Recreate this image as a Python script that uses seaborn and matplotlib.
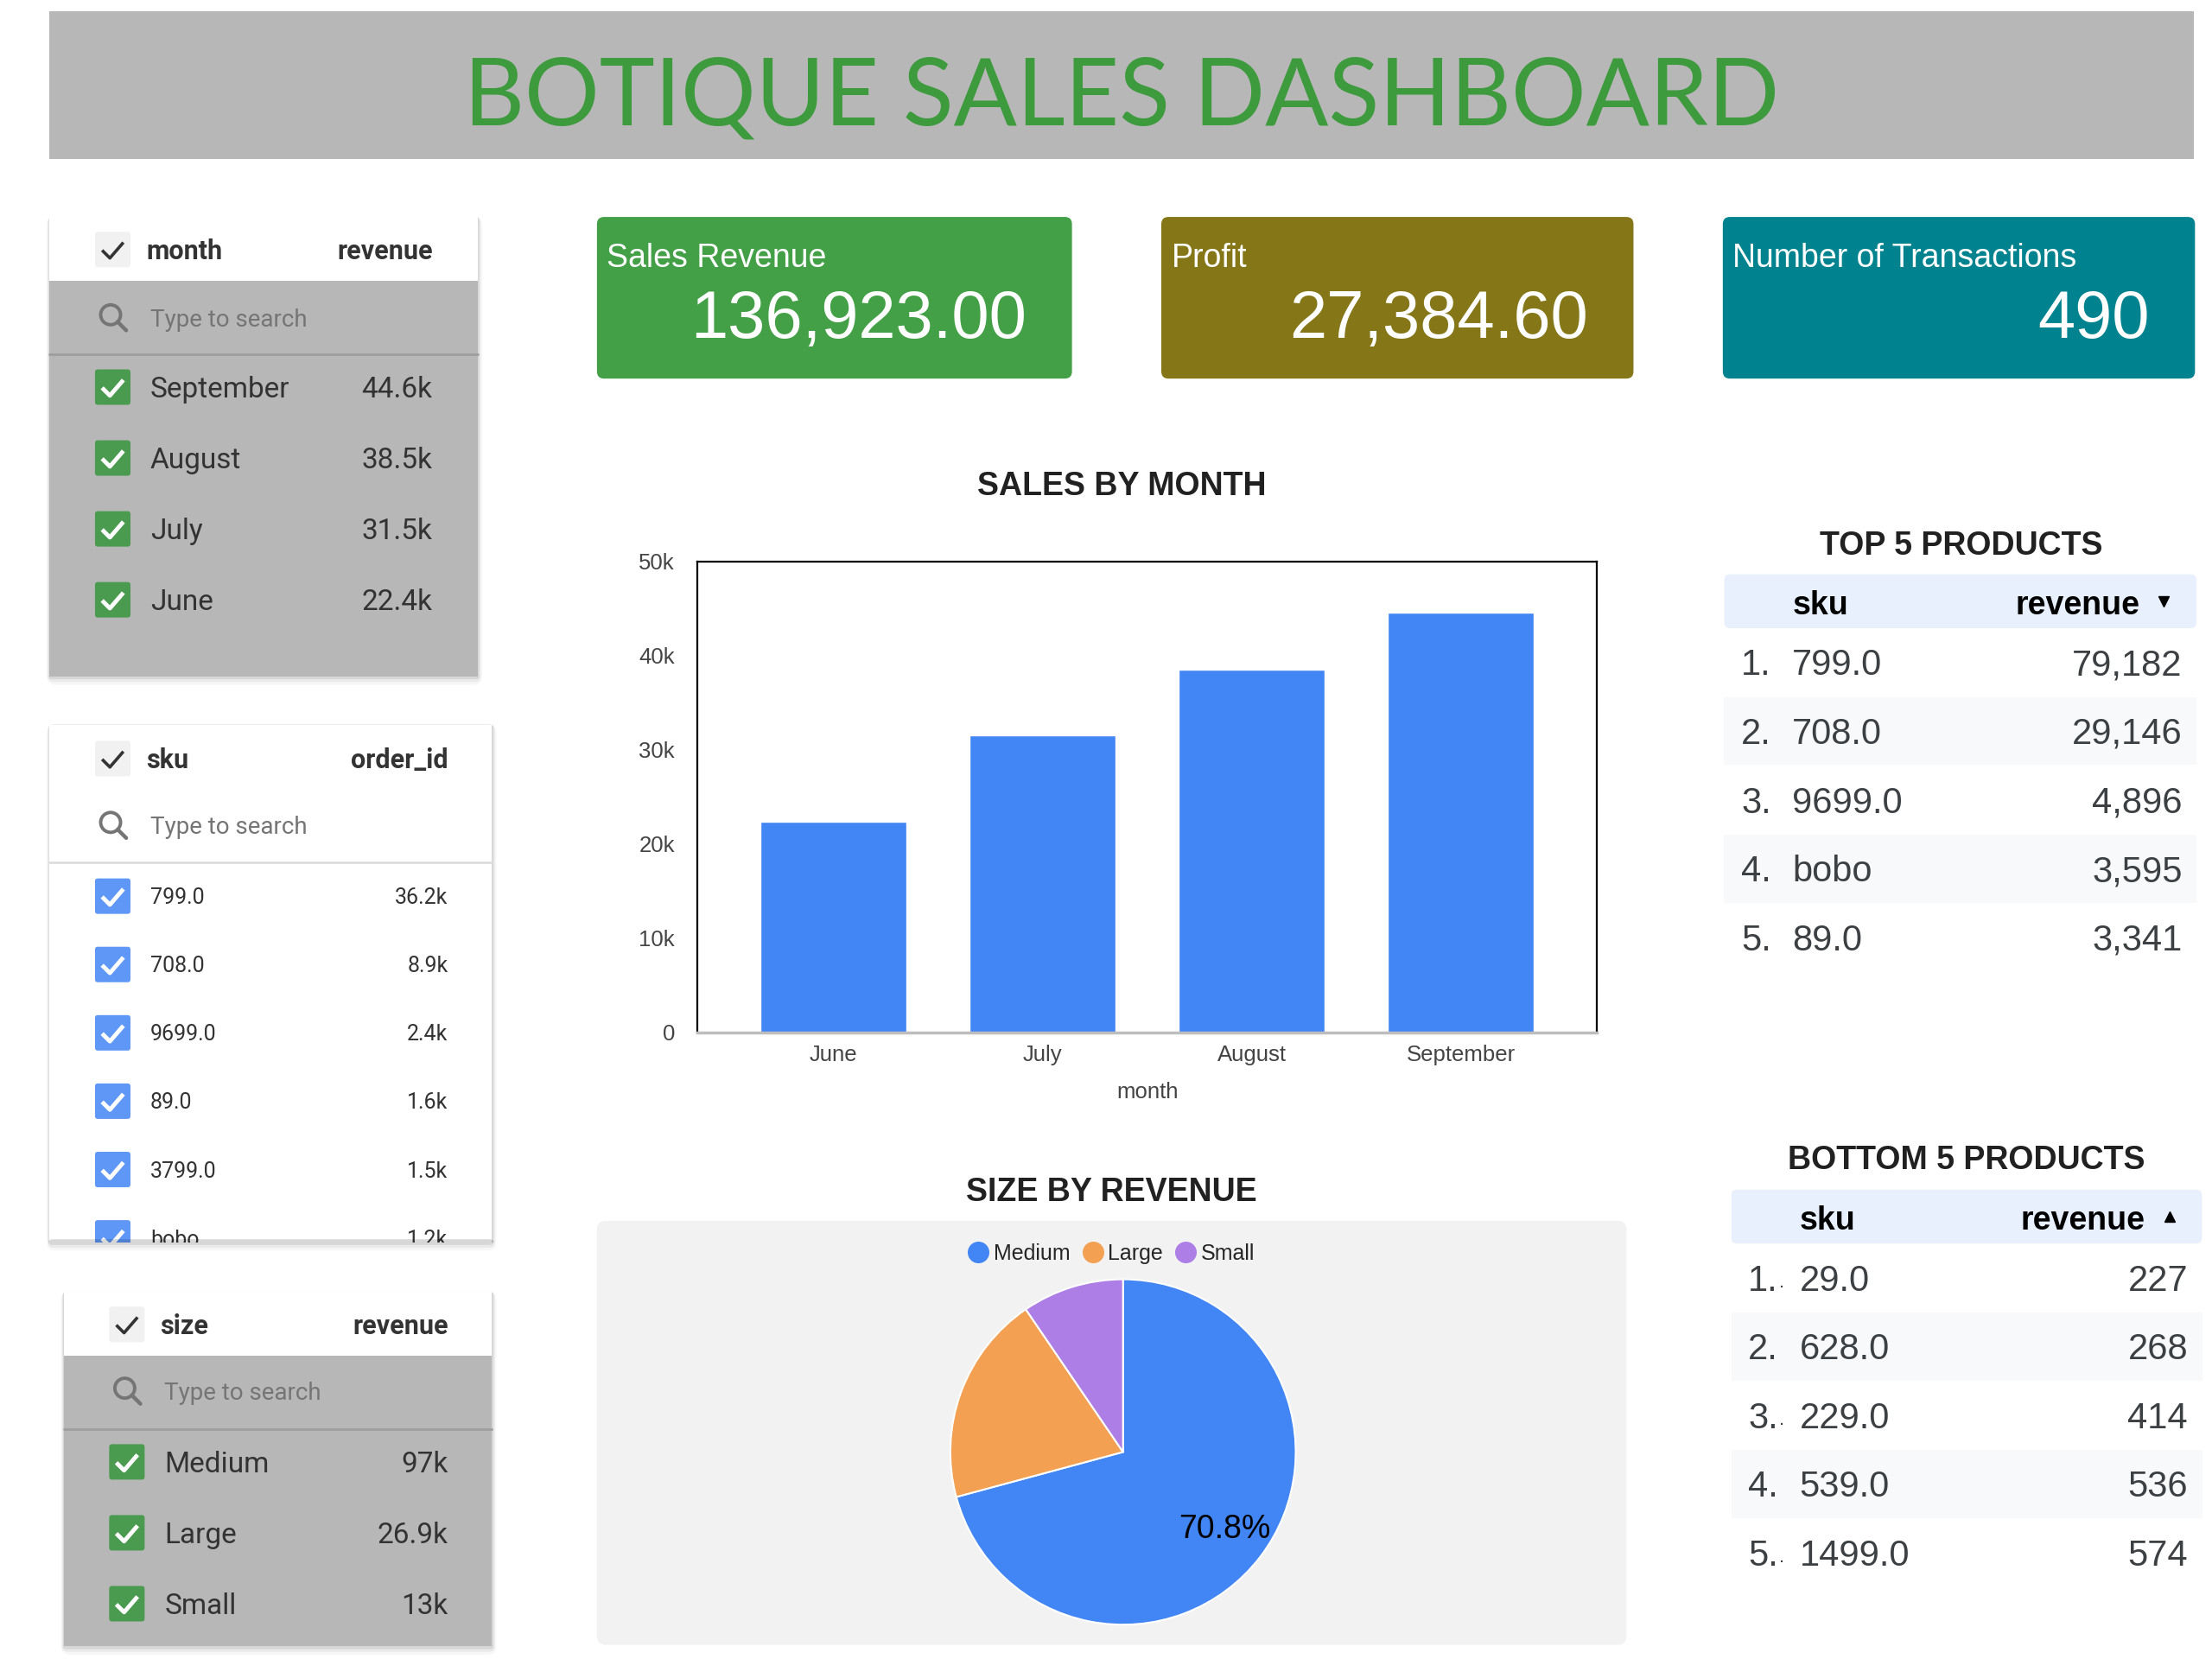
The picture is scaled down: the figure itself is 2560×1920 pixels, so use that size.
import numpy as np
import pandas as pd
import matplotlib
matplotlib.use("Agg")
import matplotlib.pyplot as plt
import matplotlib.patches as mpatches
from matplotlib.lines import Line2D
from matplotlib.ticker import FuncFormatter
import seaborn as sns

# === data ===
months = ["June", "July", "August", "September"]
month_revenue = [22400, 31500, 38500, 44600]

sku_list = ["799.0", "708.0", "9699.0", "89.0", "3799.0", "bobo"]
sku_orders = [36200, 8900, 2400, 1600, 1500, 1200]

sizes = ["Medium", "Large", "Small"]
size_revenue = [96960, 26940, 13040]
pie_colors = ["#4285f4", "#f4a052", "#ad7fe6"]

kpi_labels = ["Sales Revenue", "Profit", "Number of Transactions"]
kpi_values = [136923.00, 27384.60, 490]
kpi_formats = ["{:,.2f}", "{:,.2f}", "{:,.0f}"]
kpi_colors = ["#43a047", "#857718", "#00838f"]

top_sku = ["799.0", "708.0", "9699.0", "bobo", "89.0"]
top_revenue = [79182, 29146, 4896, 3595, 3341]
bottom_sku = ["29.0", "628.0", "229.0", "539.0", "1499.0"]
bottom_revenue = [227, 268, 414, 536, 574]

# === style ===
sns.set_theme(style="white")
plt.rcParams["font.family"] = ["Liberation Sans", "DejaVu Sans"]

W, H = 1560, 1170   # layout units
fig = plt.figure(figsize=(25.6, 19.2), dpi=100)
fig.patch.set_facecolor("white")
bg = fig.add_axes([0, 0, 1, 1])
bg.set_xlim(0, W)
bg.set_ylim(H, 0)
bg.axis("off")


def fa(x0, y0, x1, y1):
    return [x0 / W, 1 - y1 / H, (x1 - x0) / W, (y1 - y0) / H]


def box(x0, y0, x1, y1, color, r=0, z=1, **kw):
    if r:
        p = mpatches.FancyBboxPatch((x0, y0), x1 - x0, y1 - y0,
                                    boxstyle=f"round,pad=0,rounding_size={r}",
                                    fc=color, ec="none", zorder=z, **kw)
    else:
        p = mpatches.Rectangle((x0, y0), x1 - x0, y1 - y0, fc=color, ec="none", zorder=z, **kw)
    bg.add_patch(p)
    return p


def txt(x, yc, s, size, **kw):
    kw.setdefault("color", "#333333")
    kw.setdefault("zorder", 5)
    return bg.text(x, yc + 0.305 * size, s, fontsize=size, va="baseline", **kw)


def shadow(x0, y0, x1, y1, z=0.5):
    for k, a in [(6, 0.03), (4, 0.05), (2, 0.08)]:
        box(x0 - k / 3, y0, x1 + k / 2, y1 + k, "black", r=k, z=z, alpha=a)


def checkbox(x, yc, fc, mark, lw=3.5, clip=None):
    s = 25
    p = box(x, yc - s / 2, x + s, yc + s / 2, fc, r=2, z=3)
    ln, = bg.plot([x + 5, x + 10.5, x + 20], [yc + 0.5, yc + 6, yc - 5],
                  color=mark, lw=lw, zorder=4, solid_capstyle="butt")
    if clip is not None:
        p.set_clip_path(clip)
        ln.set_clip_path(clip)


def magnifier(x, yc):
    bg.add_patch(mpatches.Circle((x - 1, yc - 2), 7, fill=False, ec="#757575", lw=2.8, zorder=3))
    bg.plot([x + 4, x + 10], [yc + 3, yc + 9], color="#757575", lw=3.2, zorder=3)


def kfmt(v):
    return f"{v / 1000:.1f}".rstrip("0").rstrip(".") + "k"


def filter_panel(x0, y0, x1, y1, dim, metric, labels, values, body, check_fc,
                 head_y, search_y, sep_y, row_y0, row_step, box_x, val_x, row_fs, sep_color):
    shadow(x0, y0, x1, y1)
    panel = box(x0, y0, x1, y1, body, z=1)
    box(x0, y0, x1, y0 + 45, "white", z=1.5)
    checkbox(box_x, head_y, "#f1f1f1", "#333333", lw=2.6)
    txt(box_x + 36, head_y, dim, 22, weight="bold", family="Roboto")
    txt(val_x, head_y, metric, 22, weight="bold", ha="right", family="Roboto")
    magnifier(box_x + 12, search_y)
    txt(box_x + 39, search_y, "Type to search", 20, color="#757575", family="Roboto")
    bg.plot([x0, x1], [sep_y, sep_y], color=sep_color, lw=2, zorder=2)
    last = y0
    for i, (lab, v) in enumerate(zip(labels, values)):
        yc = row_y0 + i * row_step
        checkbox(box_x, yc, check_fc, "white", clip=panel)
        txt(box_x + 39, yc, lab, row_fs, family="Roboto")
        txt(val_x, yc, kfmt(v), row_fs, ha="right", family="Roboto")
        last = yc + row_fs * 0.5
    if last > y1:
        # list scrolls past the bottom edge of the control: hide the overflow
        box(x0 - 6, y1, x1 + 8, last + 6, "white", z=6)
        shadow(x0, y1 - 2, x1, y1, z=6.1)


# === header ===
box(35, 8, 1547, 112, "#b7b7b7")
bg.text(791, 88, "BOTIQUE SALES DASHBOARD", family="Lato", fontsize=78,
        color="#3d9a3d", ha="center", va="baseline")

# === filter controls ===
order = np.argsort(month_revenue)[::-1]
filter_panel(35, 153, 337, 477, "month", "revenue",
             [months[i] for i in order], [month_revenue[i] for i in order],
             "#b7b7b7", "#4a9a4f", 176, 224, 250, 273, 50, 67, 305, 24, "#9e9e9e")
filter_panel(35, 511, 347, 876, "sku", "order_id", sku_list, sku_orders,
             "white", "#5e97f6", 535, 582, 608, 632, 48.2, 67, 316, 18, "#dddddd")
filter_panel(45, 911, 347, 1161, "size", "revenue", sizes, size_revenue,
             "#b7b7b7", "#4a9a4f", 934, 981, 1008, 1031, 50, 77, 316, 24, "#9e9e9e")

# === KPI cards ===
card_x = [(421, 756), (819, 1152), (1215, 1548)]
for (cx0, cx1), lab, val, fmt, col in zip(card_x, kpi_labels, kpi_values, kpi_formats, kpi_colors):
    box(cx0, 153, cx1, 267, col, r=5, z=1)
    bg.text(cx0 + 7, 188, lab, fontsize=27, color="white", va="baseline")
    bg.text(cx1 - 32, 238, fmt.format(val), fontsize=56, color="white", ha="right", va="baseline")

# === sales by month ===
txt(791, 341, "SALES BY MONTH", 27, weight="bold", ha="center", color="#212121")
ax_bar = fig.add_axes(fa(492, 396, 1126, 728))
sns.barplot(x=months, y=month_revenue, color="#4285f4", saturation=1, width=0.7, ax=ax_bar)
ax_bar.set_xlim(-0.65, 3.65)
ax_bar.set_ylim(0, 50000)
ax_bar.set_yticks(range(0, 50001, 10000))
ax_bar.yaxis.set_major_formatter(FuncFormatter(lambda v, _: "0" if v == 0 else f"{v / 1000:.0f}k"))
ax_bar.tick_params(length=0, labelsize=18.5, colors="#444444")
ax_bar.tick_params(axis="y", pad=19)
ax_bar.tick_params(axis="x", pad=10)
ax_bar.set_xlabel("month", fontsize=18.5, color="#444444", labelpad=14)
ax_bar.set_ylabel("")
for s in ["left", "top", "right"]:
    ax_bar.spines[s].set_color("black")
    ax_bar.spines[s].set_linewidth(1.6)
ax_bar.spines["bottom"].set_color("#bdbdbd")
ax_bar.spines["bottom"].set_linewidth(2.5)

# === size by revenue ===
txt(784, 839, "SIZE BY REVENUE", 27, weight="bold", ha="center", color="#212121")
box(421, 861, 1147, 1160, "#f2f2f2", r=6, z=0.8)
ax_pie = fig.add_axes(fa(669, 901, 915, 1147))
ax_pie.pie(size_revenue, colors=pie_colors, startangle=90, counterclock=False,
           autopct=lambda p: f"{p:.1f}%" if p > 50 else "", pctdistance=0.74,
           wedgeprops=dict(edgecolor="white", linewidth=1.5),
           textprops=dict(fontsize=27, color="black"))
ax_pie.set_xlim(-1.01, 1.01)
ax_pie.set_ylim(-1.01, 1.01)
ax_pie.set_aspect("equal")
handles = [Line2D([], [], marker="o", ls="", color=c, markersize=17) for c in pie_colors]
fig.legend(handles, sizes, loc="center", bbox_to_anchor=(784 / W, 1 - 884 / H), ncol=3,
           frameon=False, fontsize=18, handletextpad=0.25, columnspacing=0.6, handlelength=0.9)


# === product tables ===
def product_table(x0, x1, title, title_x, title_y, head_y0, skus, revs, arrow, trunc):
    txt(title_x, title_y, title, 27, weight="bold", ha="center", color="#212121")
    box(x0, head_y0, x1, head_y0 + 38, "#e8f0fe", r=4)
    txt(x0 + 48, head_y0 + 20, "sku", 27, weight="bold", color="black")
    txt(x1 - 40, head_y0 + 20, "revenue", 27, weight="bold", ha="right", color="black")
    bg.plot(x1 - 23, head_y0 + 19, marker=arrow, color="black", ms=8, zorder=5)
    for i, (sku, rev) in enumerate(zip(skus, revs)):
        yc = head_y0 + 62 + 48.5 * i
        if i % 2 == 1:
            box(x0, yc - 24, x1, yc + 24, "#f8f9fa", z=0.8)
        txt(x0 + 33, yc, f"{i + 1}.", 30, ha="right", color="#3c4043")
        if trunc and i % 2 == 0:
            txt(x0 + 34, yc + 2, ".", 16, color="#3c4043")
        txt(x0 + 48, yc, sku, 30, color="#3c4043")
        txt(x1 - 10, yc, f"{rev:,}", 30, ha="right", color="#3c4043")


product_table(1216, 1549, "TOP 5 PRODUCTS", 1383, 383, 405, top_sku, top_revenue, "v", False)
product_table(1221, 1553, "BOTTOM 5 PRODUCTS", 1387, 816, 839, bottom_sku, bottom_revenue, "^", True)

fig.savefig("out.png", dpi=100)
